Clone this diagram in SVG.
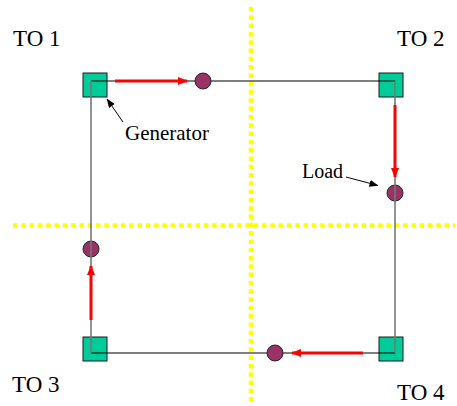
<svg xmlns="http://www.w3.org/2000/svg" width="457" height="406" viewBox="0 0 457 406">
<defs>
<style>
.lbl{font-family:"Liberation Serif","Times New Roman",serif;fill:#000}
.to{font-size:23px}
.sq{fill:#00CC99;stroke:#1a1a1a;stroke-width:1}
.bus{fill:#993366;stroke:#262626;stroke-width:1}
.hl{stroke:#000;stroke-width:1.2;fill:none}
.vl{stroke:#777;stroke-width:1.6;fill:none}
.flow{stroke:#FF0000;stroke-width:3;fill:none;marker-end:url(#rh)}
.ptr{stroke:#000;stroke-width:1;fill:none;marker-end:url(#bh)}
.div{stroke:#FFFF00;stroke-width:4.5;stroke-dasharray:4.5 3.8;fill:none}
</style>
<marker id="rh" markerWidth="10" markerHeight="8" refX="9" refY="4" orient="auto" markerUnits="userSpaceOnUse">
<path d="M0,0 L10,4 L0,8 Z" fill="#FF0000"/>
</marker>
<marker id="bh" markerWidth="9" markerHeight="7" refX="8.5" refY="3.5" orient="auto" markerUnits="userSpaceOnUse">
<path d="M0,0 L9,3.5 L0,7 Z" fill="#000"/>
</marker>
</defs>
<g id="dividers">
<line class="div" x1="251" y1="7" x2="251" y2="406"/>
<line class="div" x1="13" y1="225.5" x2="455" y2="225.5"/>
</g>
<g id="TO1"><rect class="sq" x="83" y="73" width="24" height="24"/><text class="lbl to" x="13" y="46">TO 1</text></g>
<g id="TO2"><rect class="sq" x="379" y="73" width="24" height="24"/><text class="lbl to" x="397" y="46">TO 2</text></g>
<g id="TO3"><rect class="sq" x="83" y="337" width="24" height="24"/><text class="lbl to" x="12" y="392">TO 3</text></g>
<g id="TO4"><rect class="sq" x="379" y="337" width="24" height="24"/><text class="lbl to" x="397" y="400">TO 4</text></g>
<g id="connectors">
<line class="hl" x1="91" y1="81" x2="395" y2="81"/>
<line class="hl" x1="91" y1="353" x2="395" y2="353"/>
</g>
<g id="bus-top"><circle class="bus" cx="203" cy="81" r="8"/></g>
<g id="bus-right"><circle class="bus" cx="395" cy="193" r="8"/></g>
<g id="bus-left"><circle class="bus" cx="91" cy="249" r="8"/></g>
<g id="bus-bottom"><circle class="bus" cx="275" cy="353" r="8"/></g>
<g id="connectors-v">
<line class="vl" x1="91" y1="81" x2="91" y2="353"/>
<line class="vl" x1="395" y1="81" x2="395" y2="353"/>
</g>
<g id="flows">
<line class="flow" x1="115" y1="81" x2="187" y2="81"/>
<line class="flow" x1="395" y1="105" x2="395" y2="177"/>
<line class="flow" x1="91" y1="320" x2="91" y2="266"/>
<line class="flow" x1="363" y1="353" x2="292" y2="353"/>
</g>
<g id="generator-label">
<line class="ptr" x1="123" y1="122" x2="107" y2="99"/>
<text class="lbl" x="125" y="140" font-size="21">Generator</text>
</g>
<g id="load-label">
<line class="ptr" x1="346" y1="177" x2="378" y2="185.5"/>
<text class="lbl" x="302" y="178" font-size="20">Load</text>
</g>
</svg>
